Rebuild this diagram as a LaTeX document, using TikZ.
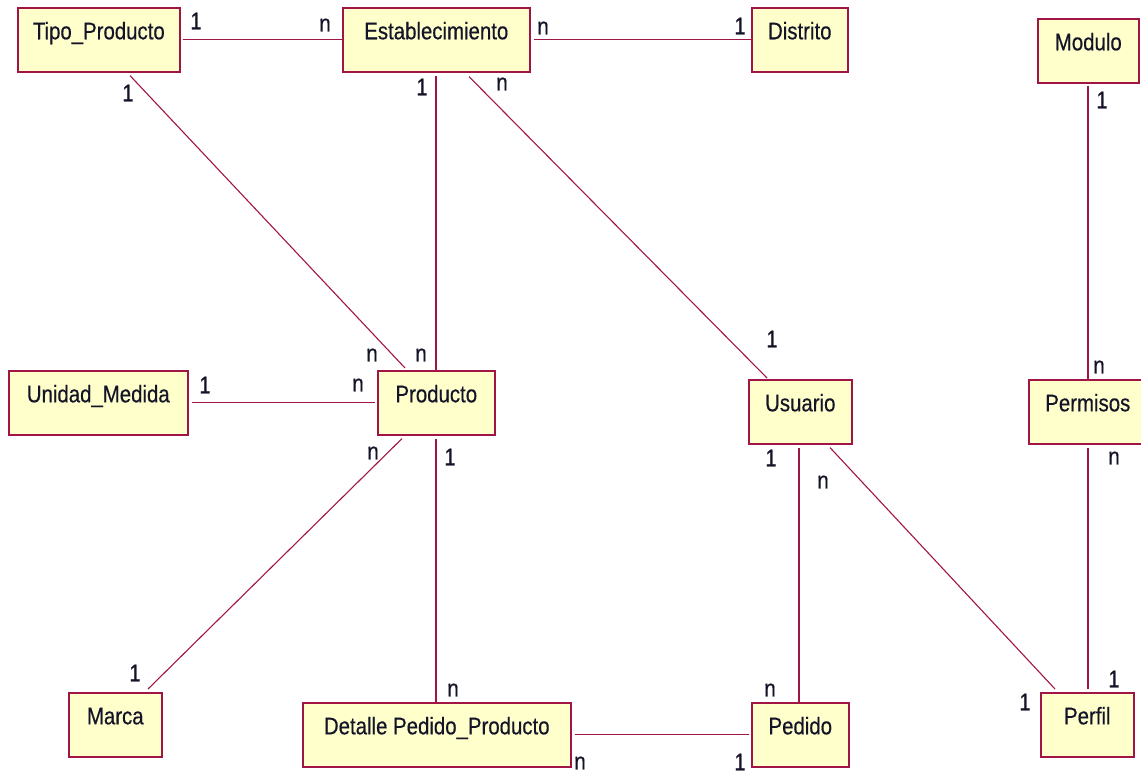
\documentclass[tikz,border=0pt]{standalone}
\usepackage{fontspec}
\setmainfont{Liberation Sans}[FakeStretch=0.85,FakeBold=0.4]
\begin{document}
\definecolor{entfill}{RGB}{255,255,204}
\definecolor{entline}{RGB}{160,20,70}
\definecolor{reltext}{RGB}{20,20,40}
\begin{tikzpicture}[x=1pt,y=-1pt,
  entity/.style={draw=entline,fill=entfill,line width=1.6pt,rectangle,
    anchor=north west,inner xsep=0pt,inner ysep=0pt,
    text height=31.5pt,text depth=32.5pt,minimum height=64pt,
    text=reltext,font=\fontsize{24}{28}\selectfont},
  rel/.style={draw=entline,line width=1.1pt},
  card/.style={inner sep=0pt,text=reltext,font=\fontsize{24}{28}\selectfont}]
\useasboundingbox (0,0) rectangle (1141,775);

% entities
\node[entity,minimum width=162pt] (tipo)     at (17,7)    {Tipo\_Producto};
\node[entity,minimum width=187pt] (estab)    at (342,7)   {Establecimiento};
\node[entity,minimum width=96pt]  (distrito) at (751,7)   {Distrito};
\node[entity,minimum width=101pt] (modulo)   at (1037,18) {Modulo};
\node[entity,minimum width=179pt] (unidad)   at (8,370)   {Unidad\_Medida};
\node[entity,minimum width=117pt] (producto) at (377,370) {Producto};
\node[entity,minimum width=103pt] (usuario)  at (748,379) {Usuario};
\node[entity,minimum width=118pt] (permisos) at (1028,379) {Permisos};
\node[entity,minimum width=93pt]  (marca)    at (68,692)  {Marca};
\node[entity,minimum width=268pt] (detalle)  at (302,702) {Detalle Pedido\_Producto};
\node[entity,minimum width=97pt]  (pedido)   at (751,702) {Pedido};
\node[entity,minimum width=93pt]  (perfil)   at (1040,692) {Perfil};

% relationships
\draw[rel] ([xshift=2pt]tipo.east) -- (estab.west);
\draw[rel] ([xshift=3pt]estab.east) -- (distrito.west);
\draw[rel] ([xshift=113pt,yshift=-3pt]tipo.south west) -- ([xshift=28pt,yshift=2pt]producto.north west);
\draw[rel] ([xshift=94pt,yshift=-3pt]estab.south west) -- ([xshift=59pt]producto.north west);
\draw[rel] ([xshift=127pt,yshift=-4pt]estab.south west) -- ([xshift=19pt,yshift=1pt]usuario.north west);
\draw[rel] ([xshift=3pt]unidad.east) -- ([xshift=-2pt]producto.west);
\draw[rel] ([xshift=25pt,yshift=-3pt]producto.south west) -- ([xshift=80pt,yshift=3pt]marca.north west);
\draw[rel] ([xshift=59pt,yshift=-3pt]producto.south west) -- ([xshift=134pt]detalle.north west);
\draw[rel] ([xshift=3pt]detalle.east) -- ([xshift=-2pt]pedido.west);
\draw[rel] ([xshift=51pt,yshift=-3pt]usuario.south west) -- ([xshift=48pt]pedido.north west);
\draw[rel] ([xshift=82pt,yshift=-3pt]usuario.south west) -- ([xshift=15pt,yshift=3pt]perfil.north west);
\draw[rel] ([xshift=51pt,yshift=-2pt]modulo.south west) -- ([xshift=60pt]permisos.north west);
\draw[rel] ([xshift=60pt,yshift=-3pt]permisos.south west) -- ([xshift=48pt,yshift=3pt]perfil.north west);

% cardinalities
\node[card] (c1)  at (196,21)  {1};
\node[card] (c2)  at (325,25)  {n};
\node[card] (c3)  at (543,28)  {n};
\node[card] (c4)  at (740,26)  {1};
\node[card] (c5)  at (128,93)  {1};
\node[card] (c6)  at (372,355) {n};
\node[card] (c7)  at (422,87)  {1};
\node[card] (c8)  at (421,355) {n};
\node[card] (c9)  at (502,84)  {n};
\node[card] (c10) at (772,339) {1};
\node[card] (c11) at (205,385) {1};
\node[card] (c12) at (358,385) {n};
\node[card] (c13) at (373,453) {n};
\node[card] (c14) at (135,673) {1};
\node[card] (c15) at (450,457) {1};
\node[card] (c16) at (453,690) {n};
\node[card] (c17) at (580,763) {n};
\node[card] (c18) at (740,762) {1};
\node[card] (c19) at (771,458) {1};
\node[card] (c20) at (770,690) {n};
\node[card] (c21) at (823,482) {n};
\node[card] (c22) at (1025,702) {1};
\node[card] (c23) at (1102,100) {1};
\node[card] (c24) at (1099,367) {n};
\node[card] (c25) at (1114,458) {n};
\node[card] (c26) at (1114,679) {1};
\end{tikzpicture}
\end{document}
